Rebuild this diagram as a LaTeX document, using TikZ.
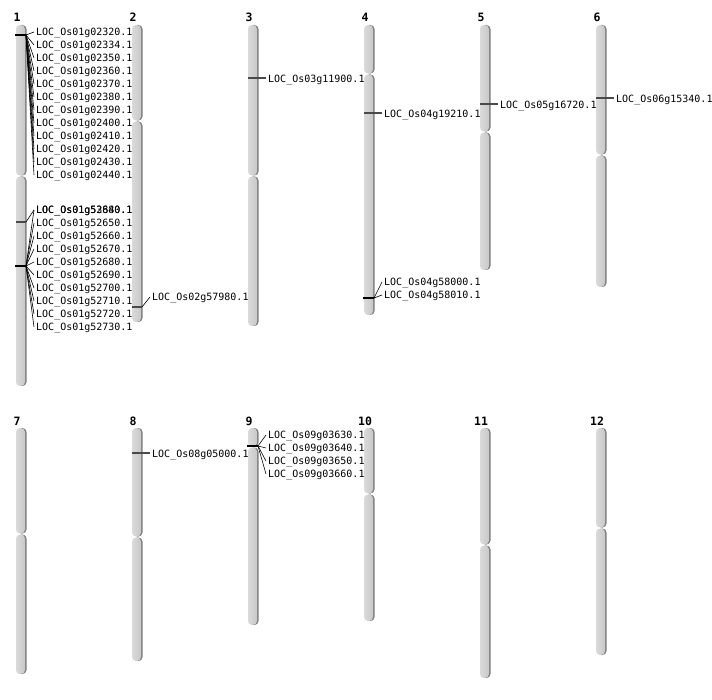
\documentclass[tikz,border=0pt]{standalone}
\usepackage{fontspec}
\setmainfont{DejaVu Sans}
\setmonofont{DejaVu Sans Mono}
\definecolor{chrlight}{HTML}{DADADA}
\definecolor{chrbody}{HTML}{C8C8C8}
\definecolor{chredge}{HTML}{7E7E7E}
\definecolor{tickgray}{HTML}{4A4A4A}
\tikzset{
  arm/.style={left color=chrlight, right color=chrbody, rounded corners=4pt},
  armedge/.style={fill=chredge, rounded corners=4pt},
  gene/.style={font=\ttfamily\fontsize{10}{12}\selectfont, anchor=west, inner xsep=2pt, inner ysep=0pt, text height=7.3pt, text depth=0pt},
  chrnum/.style={font=\ttfamily\bfseries\fontsize{11.5}{13}\selectfont, anchor=base, inner sep=0pt},
  tick/.style={draw=tickgray, line width=1.1pt},
  cluster/.style={draw=black, line width=2pt},
  fan/.style={draw=black, line width=0.6pt}
}
\begin{document}
\begin{tikzpicture}[x=1pt, y=-1pt]
\useasboundingbox (0,0) rectangle (712,700);
% chromosomes: number/left/top/centromere/bottom
\foreach \n/\x/\t/\c/\b in {1/16/25/176/386, 2/132/25/121/322, 3/248/25/176/326,
    4/364/25/74/315, 5/480/25/132/270, 6/596/25/155/287,
    7/16/428/534/674, 8/132/428/537/661, 9/248/428/447/625,
    10/364/428/494/621, 11/480/428/545/678, 12/596/428/528/655}{
  \fill[armedge] (\x+1.5,\t) rectangle (\x+10.5,\c-0.5);
  \shade[arm] (\x,\t) rectangle (\x+9,\c-0.5);
  \fill[armedge] (\x+1.5,\c+0.5) rectangle (\x+10.5,\b);
  \shade[arm] (\x,\c+0.5) rectangle (\x+9,\b);
  \node[chrnum] (n\n) at (\x+1,\t-3) {\n};
}
% chromosome 1, upper cluster
\coordinate (k1l) at (15,35);
\coordinate (k1a) at (26,35);
\draw[cluster] (k1l) -- (k1a);
\foreach \g [count=\i] in {02320,02334,02350,02360,02370,02380,02390,02400,02410,02420,02430,02440}{
  \node[gene] (a\i) at (34,{32+13*(\i-1)}) {LOC\_Os01g\g.1};
  \draw[fan] (k1a) -- (a\i.west);
}
% chromosome 1, lower cluster
\coordinate (k1m) at (16,222);
\coordinate (k1b) at (26,222);
\draw[tick] (k1m) -- (k1b);
\node[gene] (b0) at (34,210) {LOC\_Os01g53880.1};
\draw[fan] (k1b) -- (b0.west);
\coordinate (k1n) at (15,266);
\coordinate (k1c) at (26,266);
\draw[cluster] (k1n) -- (k1c);
\foreach \g [count=\i] in {52640,52650,52660,52670,52680,52690,52700,52710,52720,52730}{
  \node[gene] (b\i) at (34,{210+13*(\i-1)}) {LOC\_Os01g\g.1};
  \draw[fan] (k1c) -- (b\i.west);
}
% chromosome 2
\coordinate (k2l) at (132,307);
\coordinate (k2a) at (142,307);
\draw[tick] (k2l) -- (k2a);
\node[gene] (c1) at (150,297) {LOC\_Os02g57980.1};
\draw[fan] (k2a) -- (c1.west);
% single genes
\foreach \x/\y/\name/\txt in {248/78/d1/LOC\_Os03g11900.1, 364/113/e1/LOC\_Os04g19210.1,
    480/104/f1/LOC\_Os05g16720.1, 596/98/h1/LOC\_Os06g15340.1, 132/453/j1/LOC\_Os08g05000.1}{
  \coordinate (s\name) at (\x,\y);
  \node[gene] (\name) at (\x+18,\y+1) {\txt};
  \draw[tick] (s\name) -- (s\name -| \name.west);
}
% chromosome 4, lower cluster
\coordinate (k4l) at (363,298);
\coordinate (k4a) at (374,298);
\draw[cluster] (k4l) -- (k4a);
\foreach \g [count=\i] in {58000,58010}{
  \node[gene] (e\i x) at (382,{282+13*(\i-1)}) {LOC\_Os04g\g.1};
  \draw[fan] (k4a) -- (e\i x.west);
}
% chromosome 9
\coordinate (k9l) at (247,446);
\coordinate (k9a) at (258,446);
\draw[cluster] (k9l) -- (k9a);
\foreach \g [count=\i] in {03630,03640,03650,03660}{
  \node[gene] (m\i) at (266,{435+13*(\i-1)}) {LOC\_Os09g\g.1};
  \draw[fan] (k9a) -- (m\i.west);
}
\end{tikzpicture}
\end{document}
